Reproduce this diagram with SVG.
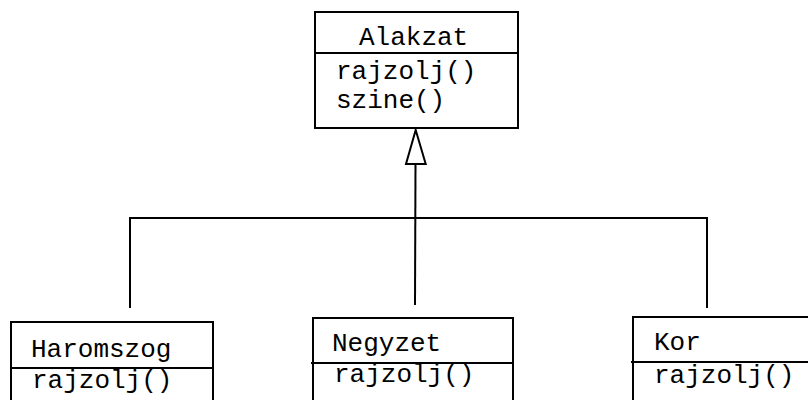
<svg xmlns="http://www.w3.org/2000/svg" width="808" height="400" viewBox="0 0 808 400">
<style>
.box{fill:#fff;stroke:#000;stroke-width:2}
.ln{fill:none;stroke:#000;stroke-width:2}
.t{font-family:"Courier New","Nimbus Mono PS","Liberation Mono",monospace;font-size:26px;fill:#000}
</style>
<rect width="808" height="400" fill="#fff"/>
<g id="connectors">
<polyline class="ln" points="130,308 130,218 707,218 707,308"/>
<line class="ln" x1="415" y1="305" x2="415.5" y2="164"/>
<polygon points="415.7,130 406,164 425.7,164" fill="#fff" stroke="#000" stroke-width="2"/>
</g>
<g id="alakzat">
<rect class="box" x="315" y="12" width="203" height="116"/>
<line class="ln" x1="315" y1="53" x2="518" y2="53"/>
<text class="t" x="359" y="45">Alakzat</text>
<text class="t" x="336" y="79">rajzolj()</text>
<text class="t" x="336" y="108">szine()</text>
</g>
<g id="haromszog">
<rect class="box" x="11" y="322" width="202" height="90"/>
<line class="ln" x1="11" y1="368" x2="213" y2="368"/>
<text class="t" x="31" y="357">Haromszog</text>
<text class="t" x="32" y="388">rajzolj()</text>
</g>
<g id="negyzet">
<rect class="box" x="313" y="318" width="200" height="94"/>
<line class="ln" x1="311" y1="363" x2="513" y2="363"/>
<text class="t" x="332" y="351">Negyzet</text>
<text class="t" x="334" y="382">rajzolj()</text>
</g>
<g id="kor">
<rect class="box" x="633" y="317" width="200" height="95"/>
<line class="ln" x1="631" y1="362" x2="833" y2="362"/>
<text class="t" x="654" y="350">Kor</text>
<text class="t" x="654" y="383">rajzolj()</text>
</g>
</svg>
